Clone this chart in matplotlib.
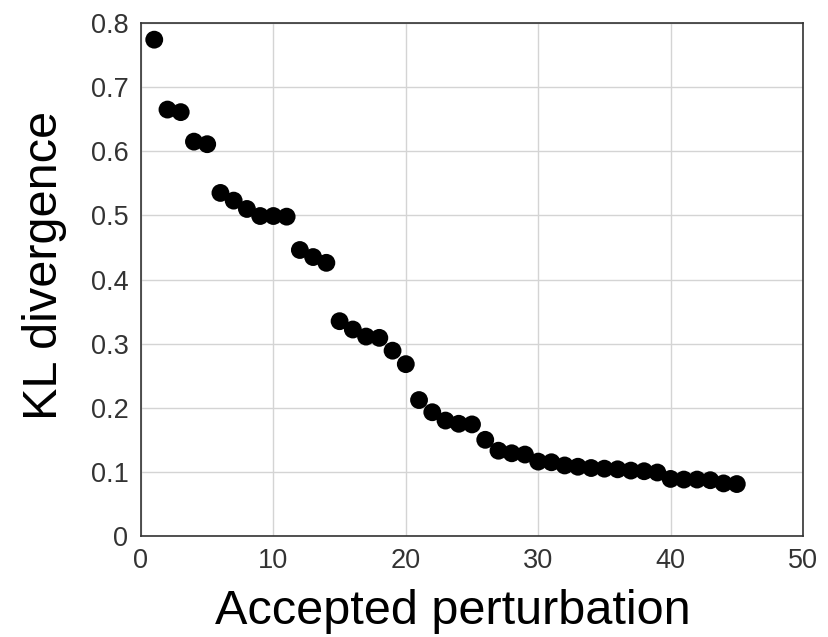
import matplotlib
matplotlib.use("Agg")
import matplotlib.pyplot as plt

plt.rcParams["font.family"] = ["Liberation Sans", "DejaVu Sans"]

# accepted perturbation index and KL divergence
STEP = list(range(1, 46))
KL = [0.774, 0.665, 0.661, 0.615, 0.611, 0.535, 0.523, 0.510, 0.499, 0.499,
      0.498, 0.446, 0.435, 0.426, 0.335, 0.322, 0.311, 0.309, 0.289, 0.268,
      0.212, 0.193, 0.180, 0.175, 0.174, 0.150, 0.133, 0.129, 0.127, 0.116,
      0.115, 0.110, 0.108, 0.106, 0.105, 0.104, 0.102, 0.101, 0.099, 0.089,
      0.088, 0.088, 0.087, 0.082, 0.081]
XTICKS = [0, 10, 20, 30, 40, 50]
YTICKS = [0, 0.1, 0.2, 0.3, 0.4, 0.5, 0.6, 0.7, 0.8]
YTICKLABELS = ["0", "0.1", "0.2", "0.3", "0.4", "0.5", "0.6", "0.7", "0.8"]

fig = plt.figure(figsize=(8.29, 6.37), dpi=100)
ax = fig.add_axes([141 / 829, 1 - 536 / 637, 662 / 829, 513 / 637])

ax.scatter(STEP, KL, s=165, color="black", edgecolors="none", zorder=3)

ax.set_xlim(0, 50)
ax.set_ylim(0, 0.8)
ax.set_xticks(XTICKS)
ax.set_yticks(YTICKS)
ax.set_yticklabels(YTICKLABELS)
ax.grid(True, color="#d4d4d4", lw=1.0)
ax.set_axisbelow(True)
ax.tick_params(length=0, labelsize=19.5, labelcolor="#333333", pad=9)
for s in ax.spines.values():
    s.set_color("#333333")
    s.set_linewidth(1.2)

ax.set_xlabel("Accepted perturbation", fontsize=35)
ax.set_ylabel("KL divergence", fontsize=35)
# labels sit a little off-centre in the original
ax.xaxis.set_label_coords(0.471, -0.104)
ax.yaxis.set_label_coords(-0.112, 0.528)

fig.savefig("out.png", dpi=100)
